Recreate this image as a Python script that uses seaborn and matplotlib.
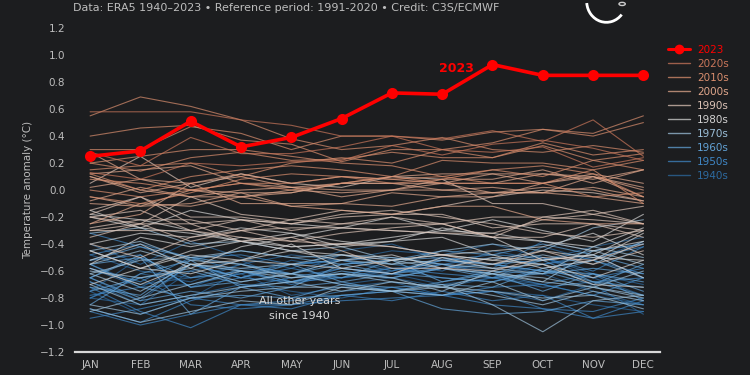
import numpy as np
import pandas as pd
import matplotlib
matplotlib.use("Agg")
import matplotlib.pyplot as plt
from matplotlib.lines import Line2D
from matplotlib.patches import Arc, Circle
import seaborn as sns

months = ["JAN", "FEB", "MAR", "APR", "MAY", "JUN", "JUL", "AUG", "SEP", "OCT", "NOV", "DEC"]

y2023 = [0.25, 0.29, 0.51, 0.32, 0.39, 0.53, 0.72, 0.71, 0.93, 0.85, 0.85, 0.85]

anom_1940s = {
    1940: [-0.80, -0.62, -0.68, -0.55, -0.62, -0.48, -0.55, -0.60, -0.45, -0.52, -0.42, -0.35],
    1941: [-0.40, -0.55, -0.38, -0.50, -0.58, -0.45, -0.40, -0.52, -0.58, -0.38, -0.45, -0.40],
    1942: [-0.58, -0.72, -0.55, -0.65, -0.52, -0.58, -0.62, -0.70, -0.65, -0.55, -0.48, -0.65],
    1943: [-0.75, -0.50, -0.72, -0.58, -0.62, -0.52, -0.58, -0.55, -0.60, -0.42, -0.52, -0.38],
    1944: [-0.48, -0.60, -0.65, -0.55, -0.48, -0.52, -0.45, -0.48, -0.40, -0.50, -0.62, -0.70],
    1945: [-0.65, -0.82, -0.55, -0.60, -0.68, -0.65, -0.60, -0.50, -0.55, -0.62, -0.75, -0.85],
    1946: [-0.55, -0.70, -0.65, -0.62, -0.78, -0.72, -0.68, -0.78, -0.75, -0.82, -0.70, -0.92],
    1947: [-0.80, -0.85, -0.60, -0.52, -0.68, -0.65, -0.62, -0.55, -0.65, -0.50, -0.65, -0.78],
    1948: [-0.75, -0.92, -0.80, -0.60, -0.62, -0.70, -0.65, -0.72, -0.65, -0.70, -0.78, -0.85],
    1949: [-0.68, -0.85, -0.78, -0.70, -0.75, -0.80, -0.72, -0.78, -0.75, -0.78, -0.85, -0.90],
}
anom_1950s = {
    1950: [-0.95, -0.88, -0.80, -0.85, -0.82, -0.75, -0.72, -0.78, -0.75, -0.88, -0.95, -0.82],
    1951: [-0.88, -0.98, -0.82, -0.72, -0.65, -0.58, -0.62, -0.52, -0.48, -0.50, -0.60, -0.42],
    1952: [-0.52, -0.48, -0.72, -0.65, -0.68, -0.58, -0.62, -0.55, -0.62, -0.70, -0.78, -0.65],
    1953: [-0.48, -0.40, -0.50, -0.48, -0.55, -0.52, -0.60, -0.52, -0.55, -0.60, -0.65, -0.58],
    1954: [-0.80, -0.65, -0.85, -0.88, -0.85, -0.82, -0.80, -0.78, -0.72, -0.70, -0.62, -0.82],
    1955: [-0.72, -0.90, -1.02, -0.85, -0.88, -0.78, -0.82, -0.75, -0.82, -0.78, -0.95, -0.90],
    1956: [-0.90, -1.00, -0.92, -0.85, -0.85, -0.78, -0.75, -0.78, -0.85, -0.88, -0.90, -0.80],
    1957: [-0.78, -0.72, -0.70, -0.62, -0.55, -0.52, -0.50, -0.55, -0.50, -0.55, -0.50, -0.42],
    1958: [-0.32, -0.42, -0.55, -0.65, -0.58, -0.65, -0.58, -0.65, -0.68, -0.58, -0.52, -0.62],
    1959: [-0.58, -0.68, -0.50, -0.60, -0.70, -0.62, -0.58, -0.62, -0.65, -0.72, -0.68, -0.65],
}
anom_1960s = {
    1960: [-0.65, -0.50, -0.92, -0.72, -0.68, -0.60, -0.65, -0.58, -0.55, -0.60, -0.70, -0.55],
    1961: [-0.52, -0.42, -0.50, -0.55, -0.62, -0.55, -0.62, -0.65, -0.68, -0.60, -0.62, -0.75],
    1962: [-0.55, -0.50, -0.65, -0.60, -0.68, -0.62, -0.65, -0.58, -0.65, -0.62, -0.52, -0.65],
    1963: [-0.65, -0.48, -0.72, -0.68, -0.62, -0.65, -0.52, -0.45, -0.48, -0.40, -0.48, -0.58],
    1964: [-0.55, -0.72, -0.80, -0.78, -0.80, -0.78, -0.75, -0.88, -0.92, -0.90, -0.82, -0.85],
    1965: [-0.68, -0.82, -0.75, -0.80, -0.72, -0.68, -0.75, -0.68, -0.60, -0.62, -0.58, -0.62],
    1966: [-0.75, -0.65, -0.60, -0.70, -0.72, -0.55, -0.52, -0.68, -0.62, -0.75, -0.62, -0.68],
    1967: [-0.65, -0.80, -0.55, -0.65, -0.55, -0.68, -0.62, -0.58, -0.62, -0.52, -0.68, -0.72],
    1968: [-0.85, -0.62, -0.52, -0.72, -0.80, -0.70, -0.72, -0.70, -0.72, -0.58, -0.68, -0.78],
    1969: [-0.72, -0.78, -0.52, -0.45, -0.50, -0.55, -0.52, -0.50, -0.55, -0.52, -0.45, -0.40],
}
anom_1970s = {
    1970: [-0.45, -0.38, -0.52, -0.55, -0.65, -0.62, -0.68, -0.72, -0.62, -0.68, -0.72, -0.80],
    1971: [-0.70, -0.85, -0.78, -0.72, -0.68, -0.75, -0.68, -0.72, -0.78, -0.85, -0.75, -0.82],
    1972: [-0.90, -0.80, -0.70, -0.60, -0.62, -0.52, -0.55, -0.52, -0.55, -0.48, -0.55, -0.38],
    1973: [-0.32, -0.28, -0.40, -0.38, -0.45, -0.42, -0.52, -0.58, -0.62, -0.65, -0.72, -0.78],
    1974: [-0.85, -0.92, -0.80, -0.75, -0.72, -0.72, -0.75, -0.70, -0.85, -1.05, -0.82, -0.78],
    1975: [-0.60, -0.65, -0.58, -0.68, -0.62, -0.70, -0.75, -0.72, -0.75, -0.80, -0.78, -0.88],
    1976: [-0.88, -0.98, -0.90, -0.82, -0.85, -0.72, -0.75, -0.78, -0.68, -0.82, -0.72, -0.60],
    1977: [-0.62, -0.52, -0.50, -0.45, -0.50, -0.48, -0.50, -0.55, -0.58, -0.62, -0.42, -0.50],
    1978: [-0.55, -0.45, -0.55, -0.60, -0.65, -0.62, -0.65, -0.75, -0.60, -0.68, -0.45, -0.55],
    1979: [-0.62, -0.75, -0.55, -0.58, -0.55, -0.48, -0.55, -0.45, -0.40, -0.45, -0.28, -0.22],
}
anom_1980s = {
    1980: [-0.40, -0.32, -0.35, -0.28, -0.32, -0.38, -0.42, -0.48, -0.45, -0.42, -0.32, -0.48],
    1981: [-0.20, -0.28, -0.32, -0.38, -0.42, -0.40, -0.38, -0.35, -0.48, -0.58, -0.52, -0.32],
    1982: [-0.70, -0.58, -0.62, -0.52, -0.45, -0.52, -0.48, -0.58, -0.50, -0.52, -0.48, -0.30],
    1983: [-0.18, -0.22, -0.30, -0.38, -0.32, -0.42, -0.38, -0.28, -0.35, -0.52, -0.48, -0.65],
    1984: [-0.45, -0.58, -0.48, -0.52, -0.40, -0.58, -0.52, -0.48, -0.52, -0.55, -0.70, -0.72],
    1985: [-0.58, -0.70, -0.55, -0.52, -0.55, -0.58, -0.62, -0.50, -0.58, -0.55, -0.65, -0.52],
    1986: [-0.45, -0.58, -0.45, -0.38, -0.45, -0.48, -0.52, -0.48, -0.52, -0.45, -0.50, -0.52],
    1987: [-0.52, -0.40, -0.58, -0.42, -0.35, -0.28, -0.20, -0.30, -0.22, -0.30, -0.38, -0.18],
    1988: [-0.15, -0.28, -0.15, -0.22, -0.25, -0.28, -0.30, -0.32, -0.35, -0.38, -0.45, -0.38],
    1989: [-0.55, -0.35, -0.42, -0.35, -0.42, -0.40, -0.35, -0.30, -0.32, -0.38, -0.42, -0.28],
}
anom_1990s = {
    1990: [-0.30, -0.25, -0.05, -0.18, -0.22, -0.25, -0.25, -0.25, -0.35, -0.20, -0.15, -0.25],
    1991: [-0.20, -0.15, -0.30, -0.22, -0.25, -0.18, -0.15, -0.20, -0.25, -0.32, -0.35, -0.30],
    1992: [-0.20, -0.25, -0.25, -0.38, -0.35, -0.45, -0.58, -0.58, -0.60, -0.50, -0.52, -0.40],
    1993: [-0.30, -0.30, -0.30, -0.35, -0.38, -0.40, -0.42, -0.48, -0.55, -0.45, -0.55, -0.45],
    1994: [-0.40, -0.50, -0.35, -0.30, -0.28, -0.28, -0.30, -0.32, -0.32, -0.22, -0.18, -0.25],
    1995: [-0.15, -0.05, -0.20, -0.20, -0.25, -0.20, -0.18, -0.18, -0.28, -0.25, -0.25, -0.35],
    1996: [-0.35, -0.25, -0.38, -0.30, -0.38, -0.32, -0.28, -0.25, -0.35, -0.35, -0.25, -0.30],
    1997: [-0.28, -0.22, -0.22, -0.30, -0.22, -0.15, -0.18, -0.12, -0.05, 0.00, -0.02, -0.08],
    1998: [0.05, 0.25, 0.02, 0.12, 0.05, 0.02, 0.10, 0.08, -0.10, -0.10, -0.18, -0.12],
    1999: [-0.18, -0.05, -0.25, -0.22, -0.30, -0.25, -0.20, -0.25, -0.20, -0.20, -0.22, -0.25],
}
anom_2000s = {
    2000: [-0.25, -0.10, -0.12, -0.05, -0.12, -0.15, -0.18, -0.12, -0.12, -0.22, -0.25, -0.25],
    2001: [-0.10, -0.12, 0.00, -0.05, 0.00, -0.02, 0.00, 0.05, -0.02, -0.02, 0.10, -0.05],
    2002: [0.12, 0.15, 0.18, 0.05, 0.02, 0.05, 0.05, 0.00, 0.02, -0.02, 0.02, -0.05],
    2003: [0.10, 0.00, -0.05, 0.00, 0.02, -0.05, 0.00, 0.08, 0.08, 0.15, 0.05, 0.15],
    2004: [0.02, 0.08, 0.00, -0.02, -0.12, -0.10, -0.12, -0.05, -0.05, 0.05, 0.10, 0.00],
    2005: [0.10, -0.02, 0.05, 0.12, 0.05, 0.10, 0.08, 0.05, 0.12, 0.12, 0.10, 0.02],
    2006: [-0.08, 0.02, -0.05, -0.05, -0.02, 0.05, 0.05, 0.05, 0.05, 0.12, 0.08, 0.15],
    2007: [0.28, 0.08, 0.05, 0.10, 0.02, 0.00, 0.00, 0.00, -0.02, -0.02, -0.05, -0.10],
    2008: [-0.25, -0.18, 0.05, -0.10, -0.10, -0.10, -0.02, -0.05, -0.02, 0.02, 0.00, -0.08],
    2009: [-0.05, -0.12, -0.10, -0.02, -0.02, 0.05, 0.10, 0.12, 0.12, 0.05, 0.12, 0.05],
}
anom_2010s = {
    2010: [0.20, 0.25, 0.30, 0.30, 0.25, 0.20, 0.18, 0.10, 0.05, 0.05, 0.15, -0.10],
    2011: [0.00, -0.05, 0.00, 0.05, 0.00, 0.05, 0.10, 0.05, 0.05, 0.05, -0.05, -0.02],
    2012: [-0.05, -0.10, -0.02, 0.08, 0.12, 0.10, 0.05, 0.08, 0.15, 0.18, 0.12, -0.05],
    2013: [0.08, 0.05, 0.00, 0.05, 0.05, 0.10, 0.08, 0.10, 0.15, 0.10, 0.22, 0.15],
    2014: [0.12, 0.00, 0.10, 0.15, 0.18, 0.15, 0.10, 0.22, 0.20, 0.20, 0.15, 0.22],
    2015: [0.15, 0.18, 0.20, 0.10, 0.20, 0.24, 0.20, 0.30, 0.35, 0.45, 0.42, 0.55],
    2016: [0.55, 0.69, 0.62, 0.52, 0.38, 0.30, 0.33, 0.39, 0.30, 0.28, 0.33, 0.28],
    2017: [0.40, 0.46, 0.48, 0.37, 0.34, 0.21, 0.30, 0.30, 0.24, 0.35, 0.26, 0.30],
    2018: [0.20, 0.14, 0.24, 0.28, 0.22, 0.23, 0.28, 0.24, 0.24, 0.33, 0.22, 0.27],
    2019: [0.30, 0.30, 0.47, 0.42, 0.30, 0.40, 0.40, 0.37, 0.43, 0.45, 0.40, 0.50],
}
anom_2020s = {
    2020: [0.58, 0.58, 0.58, 0.52, 0.48, 0.40, 0.40, 0.38, 0.44, 0.36, 0.52, 0.25],
    2021: [0.13, 0.08, 0.20, 0.18, 0.21, 0.22, 0.33, 0.26, 0.34, 0.37, 0.31, 0.22],
    2022: [0.28, 0.18, 0.39, 0.27, 0.27, 0.32, 0.40, 0.30, 0.28, 0.32, 0.17, 0.24],
}

decade_labels = ["2020s", "2010s", "2000s", "1990s", "1980s", "1970s", "1960s", "1950s", "1940s"]
decade_colors = {
    "1940s": "#2d6aa0", "1950s": "#3f86c4", "1960s": "#62a2d6", "1970s": "#9cc0da",
    "1980s": "#d2d2d2", "1990s": "#dcc3b6", "2000s": "#e0a78c", "2010s": "#d98e6e",
    "2020s": "#c9765a",
}
decade_data = {
    "1940s": anom_1940s, "1950s": anom_1950s, "1960s": anom_1960s, "1970s": anom_1970s,
    "1980s": anom_1980s, "1990s": anom_1990s, "2000s": anom_2000s, "2010s": anom_2010s,
    "2020s": anom_2020s,
}

rows = []
for dec, d in decade_data.items():
    for yr, vals in d.items():
        for i, v in enumerate(vals):
            rows.append({"year": yr, "decade": dec, "month": i, "anom": v})
df = pd.DataFrame(rows)

bg = "#1c1d1f"
txt = "#bdbdbd"
sns.set_theme(style="dark")
plt.rcParams["font.family"] = ["DejaVu Sans"]

fig = plt.figure(figsize=(7.5, 3.75), dpi=100, facecolor=bg)
ax = fig.add_axes([0.1, 0.0613, 0.78, 0.8637])
ax.set_facecolor(bg)

year_palette = {}
for dec, d in decade_data.items():
    for yr in d:
        year_palette[yr] = decade_colors[dec]

sns.lineplot(data=df, x="month", y="anom", hue="year", palette=year_palette,
             units="year", estimator=None, legend=False, linewidth=0.8, alpha=0.7, ax=ax)

df23 = pd.DataFrame({"month": range(12), "anom": y2023})
sns.lineplot(data=df23, x="month", y="anom", color="#ff0000", linewidth=2.6,
             marker="o", markersize=8, markeredgewidth=0, ax=ax, zorder=10)

ax.set_xlim(-0.3, 11.33)
ax.set_ylim(-1.2, 1.2)
ax.set_xticks(range(12))
ax.set_xticklabels(months)
yt = np.round(np.arange(-1.2, 1.21, 0.2), 1) + 0.0
ax.set_yticks(yt)
ax.set_yticklabels([f"{v + 0.0:.1f}".replace("-", "\u2212") for v in yt])
ax.tick_params(axis="both", length=0, colors=txt, labelsize=7.5)
ax.tick_params(axis="y", pad=7)
ax.tick_params(axis="x", pad=6)
ax.grid(False)
for s in ["top", "right", "left"]:
    ax.spines[s].set_visible(False)
ax.spines["bottom"].set_visible(True)
ax.spines["bottom"].set_color("#d8d8d8")
ax.spines["bottom"].set_linewidth(1.6)
ax.set_xlabel("")
ax.set_ylabel("Temperature anomaly (°C)", color=txt, fontsize=7.5, labelpad=5)

ax.text(7.28, 0.90, "2023", color="#ff0000", fontsize=9, fontweight="bold",
        ha="center", va="center")
ax.text(4.17, -0.88, "All other years\nsince 1940", color="#d8d8d8", fontsize=8,
        ha="center", va="center", linespacing=1.6)

fig.text(0.097, 0.978, "Data: ERA5 1940\u20132023 \u2022 Reference period: 1991-2020 \u2022 Credit: C3S/ECMWF",
         color=txt, fontsize=8, ha="left", va="center")

# legend
handles = [Line2D([0], [0], color="#ff0000", lw=2.2, marker="o", markersize=6)]
labels = ["2023"]
for dec in decade_labels:
    handles.append(Line2D([0], [0], color=decade_colors[dec], lw=1.0, alpha=0.75))
    labels.append(dec)
leg = fig.legend(handles, labels, loc="upper left", bbox_to_anchor=(0.878, 0.905),
                 frameon=False, fontsize=7.5, handlelength=2.1, handletextpad=0.7,
                 labelspacing=0.38)
for t, dec in zip(leg.get_texts(), ["2023"] + decade_labels):
    t.set_color("#ff0000" if dec == "2023" else decade_colors[dec])

# logo (decorative crescent)
lax = fig.add_axes([0.77, 0.93, 0.07, 0.07])
lax.set_xlim(0, 1)
lax.set_ylim(0, 1)
lax.axis("off")
lax.add_patch(Arc((0.55, 0.95), 0.75, 1.6, angle=0, theta1=190, theta2=300, color="white", lw=2))
lax.add_patch(Circle((0.85, 0.85), 0.06, fill=False, color="#cccccc", lw=1))

fig.savefig("out.png", dpi=100, facecolor=bg)
